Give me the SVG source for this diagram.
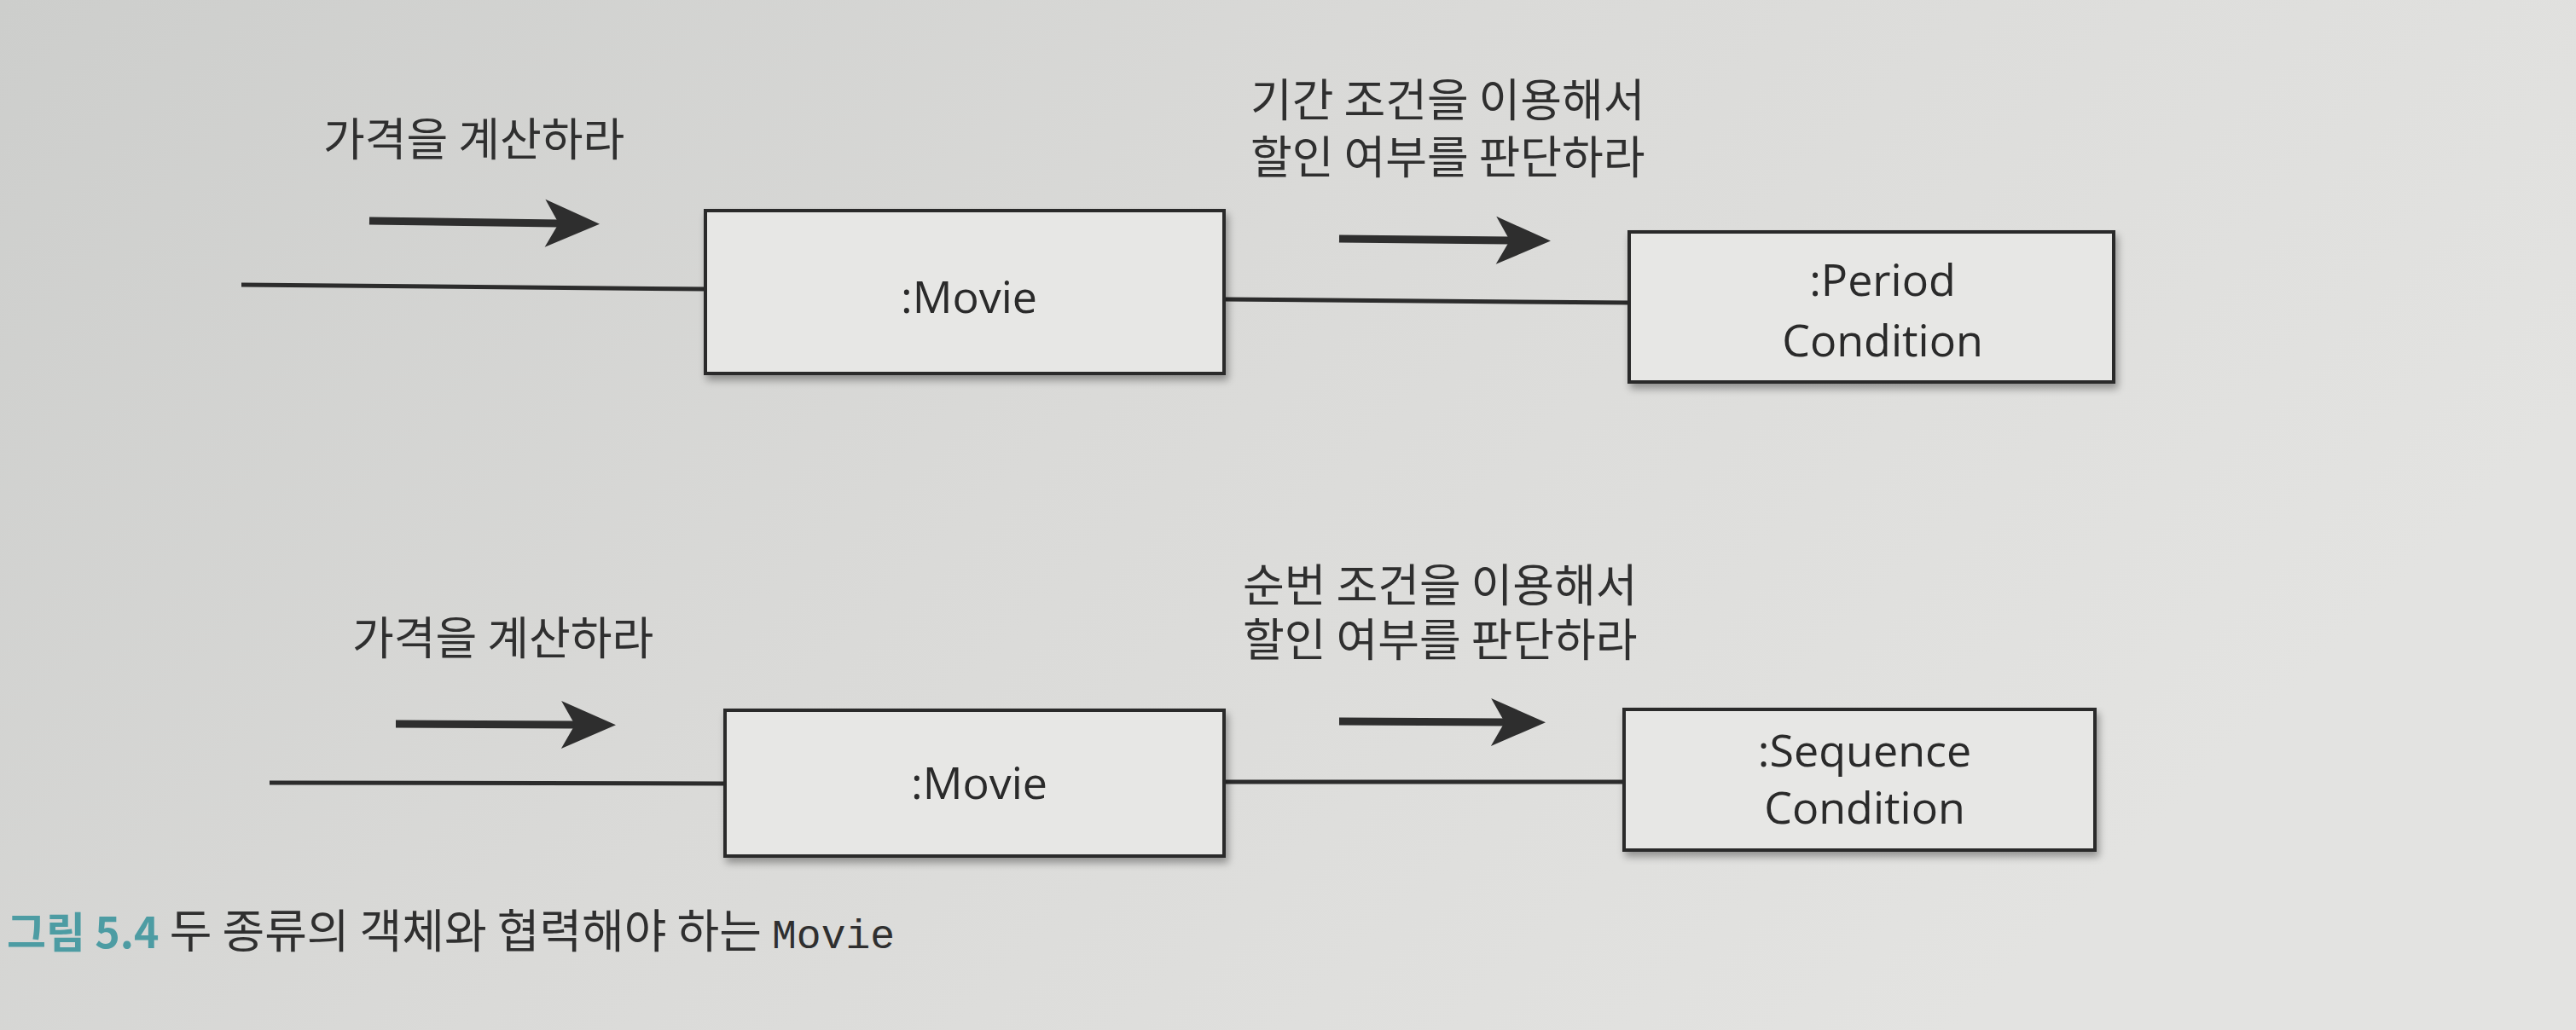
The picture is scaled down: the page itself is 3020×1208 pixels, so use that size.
<svg xmlns="http://www.w3.org/2000/svg" width="3020" height="1208" viewBox="0 0 3020 1208">
<defs>
<linearGradient id="paper" x1="0" y1="0" x2="1" y2="0.4">
<stop offset="0" stop-color="#cdcecc"/>
<stop offset="0.5" stop-color="#dadad8"/>
<stop offset="1" stop-color="#e3e3e1"/>
</linearGradient>
<marker id="head" markerUnits="userSpaceOnUse" markerWidth="80" markerHeight="60" refX="16" refY="28" orient="auto" overflow="visible">
<path d="M0,0 L64,28 L0,56 L16,28 Z" fill="#2e2e2e"/>
</marker>
<filter id="sh" x="-5%" y="-5%" width="115%" height="125%">
<feGaussianBlur in="SourceAlpha" stdDeviation="5"/>
<feOffset dx="3" dy="6" result="b"/>
<feComponentTransfer><feFuncA type="linear" slope="0.35"/></feComponentTransfer>
<feMerge><feMergeNode/><feMergeNode in="SourceGraphic"/></feMerge>
</filter>
</defs>
<style>
.box{fill:#e7e7e5;stroke:#2c2c2c;stroke-width:4}
.ln{stroke:#2c2c2c;stroke-width:5;fill:none}
.ar{stroke:#2e2e2e;stroke-width:9;fill:none;marker-end:url(#head)}
.kr{font-family:"Noto Sans CJK KR","Noto Sans",sans-serif;font-size:53px;fill:#2f2f2f}
.nm{font-family:"Open Sans","Noto Sans",sans-serif;font-size:52px;fill:#2a2a2a;text-anchor:middle}
.cap{font-family:"Noto Sans CJK KR","Noto Sans",sans-serif;font-size:54px;fill:#2f2f2f}
.num{font-size:50px;fill:#4d9ca3;font-weight:bold}
.mono{font-family:"Liberation Mono","DejaVu Sans Mono",monospace;font-size:48px}
</style>
<rect x="0" y="0" width="3020" height="1208" fill="url(#paper)"/>

<g id="connectors">
<line class="ln" x1="283" y1="334" x2="828" y2="339"/>
<line class="ln" x1="1435" y1="351" x2="1910" y2="355"/>
<line class="ln" x1="316" y1="918" x2="850" y2="919"/>
<line class="ln" x1="1435" y1="917" x2="1905" y2="917"/>
<path class="ar" d="M433,259 L655,262"/>
<path class="ar" d="M1570,280 L1770,282"/>
<path class="ar" d="M464,849 L674,850"/>
<path class="ar" d="M1570,846 L1764,847"/>
</g>

<g id="label-top-left"><text class="kr" x="379" y="183">가격을 계산하라</text></g>
<g id="label-top-right">
<text class="kr" x="1466" y="137">기간 조건을 이용해서</text>
<text class="kr" x="1466" y="204">할인 여부를 판단하라</text>
</g>
<g id="label-bottom-left"><text class="kr" x="413" y="768">가격을 계산하라</text></g>
<g id="label-bottom-right">
<text class="kr" x="1457" y="706">순번 조건을 이용해서</text>
<text class="kr" x="1457" y="770">할인 여부를 판단하라</text>
</g>

<g id="movie-top" filter="url(#sh)">
<rect class="box" x="827" y="247" width="608" height="191"/>
<text class="nm" x="1136" y="367">:Movie</text>
</g>
<g id="period-condition" filter="url(#sh)">
<rect class="box" x="1910" y="272" width="568" height="176"/>
<text class="nm" x="2207" y="347">:Period</text>
<text class="nm" x="2207" y="418">Condition</text>
</g>
<g id="movie-bottom" filter="url(#sh)">
<rect class="box" x="850" y="833" width="585" height="171"/>
<text class="nm" x="1148" y="937">:Movie</text>
</g>
<g id="sequence-condition" filter="url(#sh)">
<rect class="box" x="1904" y="832" width="552" height="165"/>
<text class="nm" x="2186" y="899">:Sequence</text>
<text class="nm" x="2186" y="966">Condition</text>
</g>

<g id="caption">
<text class="cap" x="8" y="1112"><tspan class="num">그림 5.4</tspan> 두 종류의 객체와 협력해야 하는 <tspan class="mono">Movie</tspan></text>
</g>
</svg>
